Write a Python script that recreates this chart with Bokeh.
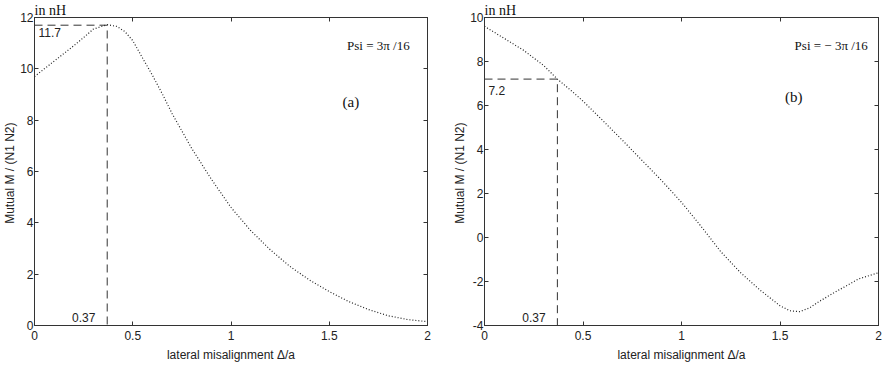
from bokeh.plotting import figure
from bokeh.layouts import row
from bokeh.models import LinearAxis, FixedTicker, Label
from bokeh.embed import file_html
from bokeh.resources import INLINE

# ---- data ----
x_ticks = [0, 0.5, 1, 1.5, 2]

xa = [0, 0.05, 0.1, 0.15, 0.2, 0.25, 0.3, 0.37, 0.42, 0.46, 0.5, 0.55, 0.6, 0.65, 0.7,
      0.8, 0.9, 1.0, 1.1, 1.2, 1.3, 1.4, 1.5, 1.6, 1.7, 1.8, 1.9, 2.0]
ya = [9.7, 10.0, 10.3, 10.6, 10.9, 11.22, 11.55, 11.72, 11.65, 11.45, 11.1, 10.42, 9.75, 9.03, 8.26,
      6.9, 5.7, 4.6, 3.7, 2.95, 2.3, 1.77, 1.32, 0.93, 0.62, 0.38, 0.23, 0.15]
ya_ticks = [0, 2, 4, 6, 8, 10, 12]

xb = [0, 0.1, 0.2, 0.3, 0.37, 0.45, 0.5, 0.6, 0.7, 0.8, 0.9, 1.0, 1.1, 1.2, 1.3, 1.4,
      1.5, 1.55, 1.6, 1.65, 1.7, 1.8, 1.9, 2.0]
yb = [9.6, 9.05, 8.5, 7.82, 7.2, 6.6, 6.2, 5.32, 4.42, 3.5, 2.58, 1.6, 0.5, -0.65, -1.6, -2.4,
      -3.1, -3.33, -3.37, -3.2, -2.9, -2.38, -1.88, -1.6]
yb_ticks = [-4, -2, 0, 2, 4, 6, 8, 10]

peak_a = (0.37, 11.7)
mark_b = (0.37, 7.2)

AX = "#333333"
SANS = "Liberation Sans"
SERIF = "Liberation Serif"


def style_axis(ax, ticks, standoff=5):
    ax.ticker = FixedTicker(ticks=ticks)
    ax.major_tick_in = 4
    ax.major_tick_out = 0
    ax.minor_tick_line_color = None
    ax.axis_line_color = AX
    ax.major_tick_line_color = AX
    ax.major_label_text_font = SANS
    ax.major_label_text_color = "#222222"
    ax.major_label_text_font_size = "12px"
    ax.major_label_standoff = standoff
    ax.axis_label_text_font = SANS
    ax.axis_label_text_font_style = "normal"
    ax.axis_label_text_font_size = "12px"
    ax.axis_label_text_color = "#222222"


def mirror_axis(ax, ticks):
    # tick marks only (as minor ticks, which carry no labels)
    ax.ticker = FixedTicker(ticks=[], minor_ticks=ticks)
    ax.major_tick_line_color = None
    ax.minor_tick_in = 4
    ax.minor_tick_out = 0
    ax.minor_tick_line_color = AX
    ax.axis_line_color = AX
    ax.major_label_standoff = 0


def make(xs, ys, yticks, width, bl, br, mark, mark_txt, psi_txt, psi_pos, tag_txt, tag_pos, mtxt_pos, xtxt_pos):
    ymin, ymax = yticks[0], yticks[-1]
    p = figure(width=width, height=368, x_range=(0, 2), y_range=(ymin, ymax),
               output_backend="svg", toolbar_location=None,
               min_border_left=bl, min_border_right=br, min_border_top=13, min_border_bottom=43)
    p.xgrid.visible = False
    p.ygrid.visible = False
    p.outline_line_color = AX
    p.background_fill_color = "white"
    p.border_fill_color = "white"

    p.title.text = "in nH"
    p.title.align = "left"
    p.title.text_font = SERIF
    p.title.text_font_size = "14px"
    p.title.text_font_style = "normal"
    p.title.text_color = "#111111"
    p.title.text_line_height = 0.8
    p.title.standoff = 0
    p.title.offset = 0

    style_axis(p.xaxis[0], x_ticks)
    style_axis(p.yaxis[0], yticks, standoff=1)
    p.xaxis[0].axis_label = "lateral misalignment \u0394/a"
    p.xaxis[0].axis_label_standoff = 5
    p.yaxis[0].axis_label = "Mutual  M / (N1 N2)"
    p.yaxis[0].axis_label_standoff = 0
    p.yaxis[0].major_label_overrides = {t: str(t) for t in yticks}

    top = LinearAxis()
    mirror_axis(top, x_ticks)
    p.add_layout(top, "above")
    right = LinearAxis()
    mirror_axis(right, yticks)
    p.add_layout(right, "right")

    # dashed guide lines
    mx, my = mark
    p.line([0, mx, mx], [my, my, ymin], line_color=AX, line_dash="8 5", line_width=1)

    # curve
    p.line(xs, ys, line_color="#222222", line_dash="1 2", line_width=1.2)

    p.add_layout(Label(x=mtxt_pos[0], y=mtxt_pos[1], text=mark_txt, text_baseline="middle",
                       text_font=SANS, text_font_size="12px", text_color="#222222"))
    p.add_layout(Label(x=xtxt_pos[0], y=xtxt_pos[1], text=f"{mx:.2f}", text_baseline="middle",
                       text_align="right", text_font=SANS, text_font_size="12px", text_color="#222222"))
    p.add_layout(Label(x=psi_pos[0], y=psi_pos[1], text=psi_txt, text_baseline="middle",
                       text_align="center", text_font=SERIF, text_font_size="13px", text_color="#111111"))
    p.add_layout(Label(x=tag_pos[0], y=tag_pos[1], text=tag_txt, text_baseline="middle",
                       text_align="center", text_font=SERIF, text_font_size="15px", text_color="#111111"))
    return p


p1 = make(xa, ya, ya_ticks, 450, 33, 23, peak_a, "11.7", "Psi = 3\u03c0 /16", (1.75, 10.92),
          "(a)", (1.61, 8.71), (0.02, 11.4), (0.31, 0.3))
p2 = make(xb, yb, yb_ticks, 432, 34, 4, mark_b, "7.2", "Psi = \u2212 3\u03c0 /16", (1.76, 8.74),
          "(b)", (1.57, 6.39), (0.02, 6.7), (0.31, -3.64))

layout = row(p1, p2)
open("out.html", "w").write(file_html(layout, INLINE))
